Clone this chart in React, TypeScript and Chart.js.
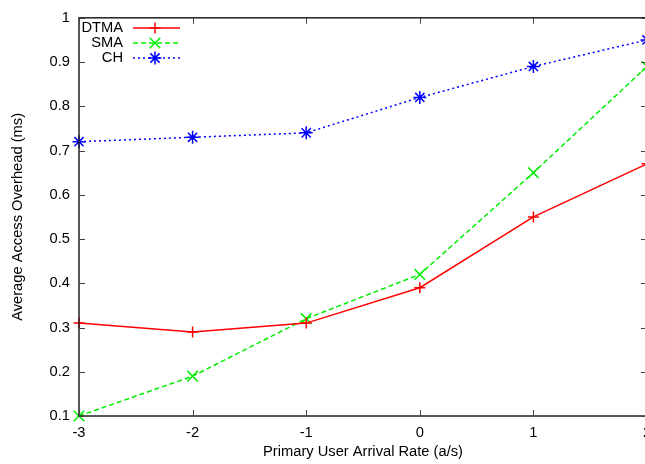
import React, { useEffect, useRef } from "react";
import { Chart, registerables } from "chart.js";

Chart.register(...registerables);

const xValues = [-3, -2, -1, 0, 1, 2];
const dtma = [0.31, 0.29, 0.31, 0.39, 0.55, 0.67];
const sma = [0.1, 0.19, 0.32, 0.42, 0.65, 0.89];
const ch = [0.72, 0.73, 0.74, 0.82, 0.89, 0.95];
const seriesNames = ["DTMA", "SMA", "CH"];
const xTitle = "Primary User Arrival Rate (a/s)";
const yTitle = "Average Access Overhead (ms)";

const FONT = "Liberation Sans, Arial, Helvetica, sans-serif";
const FS = 14.7;

function drawMarker(ctx: CanvasRenderingContext2D, style: string, x: number, y: number, r: number) {
  const d = r * Math.SQRT1_2;
  ctx.beginPath();
  if (style === "cross") {
    ctx.moveTo(x - r, y); ctx.lineTo(x + r, y);
    ctx.moveTo(x, y - r); ctx.lineTo(x, y + r);
  } else if (style === "crossRot") {
    ctx.moveTo(x - d, y - d); ctx.lineTo(x + d, y + d);
    ctx.moveTo(x - d, y + d); ctx.lineTo(x + d, y - d);
  } else {
    ctx.moveTo(x - r, y); ctx.lineTo(x + r, y);
    ctx.moveTo(x, y - r); ctx.lineTo(x, y + r);
    ctx.moveTo(x - d, y - d); ctx.lineTo(x + d, y + d);
    ctx.moveTo(x - d, y + d); ctx.lineTo(x + d, y - d);
  }
  ctx.stroke();
}

const framePlugin = {
  id: "gnuFrame",
  afterDatasetsDraw(chart: any) {
    const { ctx, chartArea: a, scales } = chart;
    ctx.save();
    ctx.strokeStyle = "#222";
    ctx.lineWidth = 1.5;
    ctx.setLineDash([]);
    ctx.strokeRect(a.left, a.top, a.right - a.left, a.bottom - a.top);
    ctx.lineWidth = 1;
    ctx.strokeStyle = "#444";
    const tl = 6;
    ctx.beginPath();
    scales.x.ticks.forEach((t: any) => {
      const px = Math.round(scales.x.getPixelForValue(t.value)) + 0.5;
      ctx.moveTo(px, a.bottom); ctx.lineTo(px, a.bottom - tl);
      ctx.moveTo(px, a.top); ctx.lineTo(px, a.top + tl);
    });
    scales.y.ticks.forEach((t: any) => {
      const py = Math.round(scales.y.getPixelForValue(t.value)) + 0.5;
      ctx.moveTo(a.left, py); ctx.lineTo(a.left + tl, py);
      ctx.moveTo(a.right, py); ctx.lineTo(a.right - tl, py);
    });
    ctx.stroke();

    // legend
    const rows = [28, 43, 58];
    chart.data.datasets.forEach((ds: any, i: number) => {
      const y = rows[i];
      ctx.fillStyle = "#000";
      ctx.font = `${FS}px ${FONT}`;
      ctx.textAlign = "right";
      ctx.textBaseline = "middle";
      ctx.fillText(ds.label, 123, y);
      ctx.strokeStyle = ds.borderColor;
      ctx.lineWidth = ds.borderWidth;
      ctx.setLineDash(ds.borderDash || []);
      ctx.beginPath();
      ctx.moveTo(133, y); ctx.lineTo(180, y);
      ctx.stroke();
      ctx.setLineDash([]);
      ctx.lineWidth = 1.5;
      drawMarker(ctx, ds.pointStyle, 155, y, ds.pointRadius);
    });
    ctx.restore();
  },
};

export default function App() {
  const ref = useRef<HTMLCanvasElement>(null);
  useEffect(() => {
    const canvas = ref.current!;
    const mk = (label: string, data: number[], color: string, dash: number[], style: string, r: number) => ({
      label,
      data: xValues.map((x, i) => ({ x, y: data[i] })),
      borderColor: color,
      backgroundColor: color,
      borderWidth: 1.5,
      borderDash: dash,
      pointStyle: style,
      pointRadius: r,
      pointBorderWidth: 1.5,
      pointBorderColor: color,
      tension: 0,
      clip: false,
    });
    const chart = new Chart(canvas, {
      type: "line",
      data: {
        datasets: [
          mk(seriesNames[0], dtma, "#ff0000", [], "cross", 5.5),
          mk(seriesNames[1], sma, "#00ee00", [5, 3], "crossRot", 7.5),
          mk(seriesNames[2], ch, "#0000ff", [2, 3], "star", 6.5),
        ],
      },
      options: {
        responsive: false,
        animation: false,
        devicePixelRatio: 1,
        layout: { padding: { left: 0, top: 15, right: 13, bottom: 0 } },
        plugins: { legend: { display: false }, tooltip: { enabled: false } },
        scales: {
          x: {
            type: "linear",
            min: -3,
            max: 2,
            afterFit: (s: any) => { s.height = 48; },
            ticks: { stepSize: 1, padding: 8, color: "#000", font: { family: FONT, size: FS } },
            grid: { display: false, drawTicks: false },
            border: { display: false },
            title: { display: true, text: xTitle, color: "#000", font: { family: FONT, size: FS }, padding: { top: 0, bottom: 3 } },
          },
          y: {
            type: "linear",
            min: 0.1,
            max: 1,
            afterFit: (s: any) => { s.width = 79; },
            ticks: {
              stepSize: 0.1,
              padding: 9,
              color: "#000",
              font: { family: FONT, size: FS },
              callback: (v: any) => (Math.abs(v - 1) < 1e-9 ? "1" : Number(v).toFixed(1)),
            },
            grid: { display: false, drawTicks: false },
            border: { display: false },
            title: { display: true, text: yTitle, color: "#000", font: { family: FONT, size: FS }, padding: { top: 9, bottom: 0 } },
          },
        },
      },
      plugins: [framePlugin],
    });
    return () => chart.destroy();
  }, []);
  return (
    <div style={{ position: "fixed", left: 0, top: 0, width: 645, height: 464, overflow: "hidden", background: "#fff" }}>
      <canvas ref={ref} width={660} height={464} style={{ width: 660, height: 464, display: "block" }} />
    </div>
  );
}
